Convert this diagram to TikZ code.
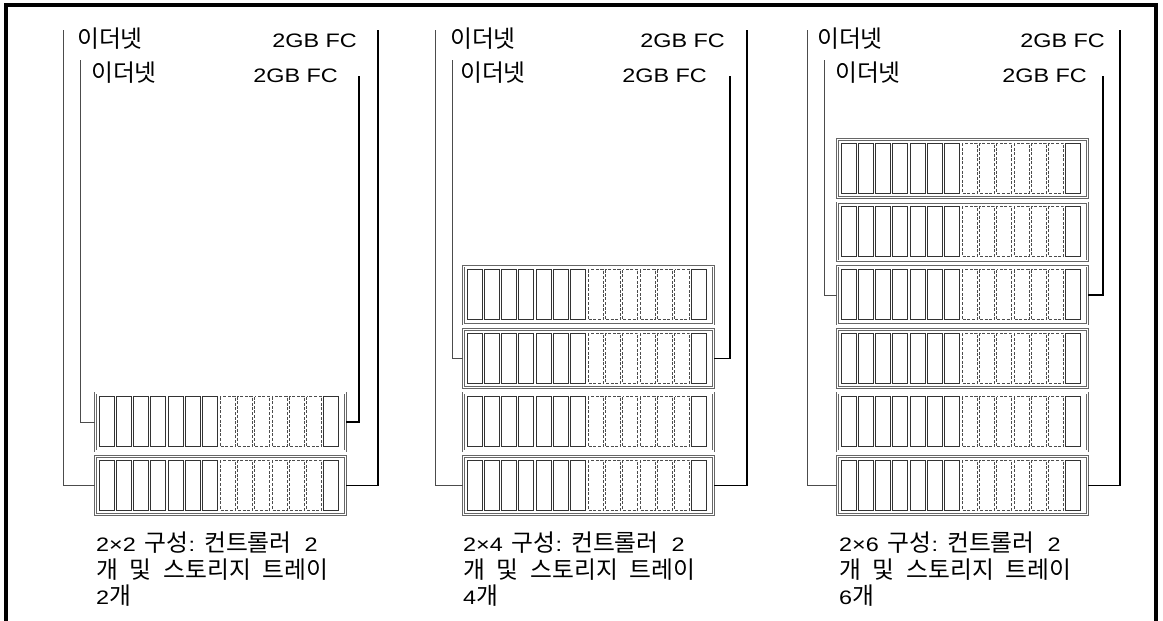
\documentclass[tikz,border=0pt]{standalone}
\usepackage{fontspec}
\setmainfont[FakeStretch=1.2]{Liberation Sans}
\newfontfamily\kr[Scale=1.22, WordSpace=2.2]{Noto Sans CJK KR}
\newcommand\gapa{\hspace*{9pt}}
\newcommand\gapb{\hspace*{13pt}}
\tikzset{
  frameline/.style={line width=3.5pt, line join=miter, line cap=rect},
  traybox/.style={draw=black!60, double=white, double distance=1.1pt, line width=0.7pt,
    minimum width=250pt, minimum height=58pt, anchor=north west, inner sep=0pt},
  slotsolid/.style={draw=black!80, line width=0.9pt},
  slotdash/.style={draw=black!70, line width=0.7pt, dash pattern=on 3pt off 1.6pt},
  eth/.style={draw=black!70, line width=0.8pt},
  fcline/.style={draw=black, line width=1.5pt},
  lbl/.style={inner sep=0pt, font=\fontsize{19.5}{27}\selectfont},
  captext/.style={inner sep=0pt, anchor=north west, align=left, font=\fontsize{19.5}{26.5}\selectfont}
}
\newcommand\traydraw[3]{%
  \node[traybox] (#1) at (#2,#3) {};
  \foreach \s in {0,...,13}{%
    \pgfmathsetmacro\xa{#2+4+\s*17.3}%
    \pgfmathsetmacro\xb{\xa+15}%
    \pgfmathsetmacro\ya{#3+4}%
    \pgfmathsetmacro\yb{#3+54}%
    \ifnum\s<7
      \draw[slotsolid] (\xa,\ya) rectangle (\xb,\yb);
    \else\ifnum\s=13
      \draw[slotsolid] (\xa,\ya) rectangle (\xb,\yb);
    \else
      \draw[slotdash] (\xa,\ya) rectangle (\xb,\yb);
    \fi\fi
  }%
}
\begin{document}
\begin{tikzpicture}[x=1pt,y=-1pt]
\useasboundingbox (0,0) rectangle (1163,621);
\draw[frameline] (6,630) -- (6,5) -- (1156,5) -- (1156,630);

% ---------- Panel 1 (2x2)
\traydraw{p1t0}{95}{456}
\traydraw{p1t1}{95}{392.6}
\coordinate (p1eo) at (63,30);
\coordinate (p1ei) at (80,60);
\coordinate (p1fi) at (359,76);
\coordinate (p1fo) at (378,30);
\draw[eth] (p1eo) |- (p1t0.west);
\draw[eth] (p1ei) |- (p1t1.west);
\draw[fcline] (p1fi) |- (p1t1.east);
\draw[fcline] (p1fo) |- (p1t0.east);
\node[lbl, anchor=base west] (p1l1) at (77,47) {\kr 이더넷};
\node[lbl, anchor=base east] (p1l2) at (357,47) {2GB FC};
\node[lbl, anchor=base west] (p1l3) at (91,81) {\kr 이더넷};
\node[lbl, anchor=base east] (p1l4) at (338,82) {2GB FC};
\node[captext] (p1c) at (96,532) {2×2\gapa{\kr 구성}:\gapa{\kr 컨트롤러}\gapb2\\{\kr 개 및 스토리지 트레이}\\2{\kr 개}};

% ---------- Panel 2 (2x4)
\traydraw{p2t0}{463}{456}
\traydraw{p2t1}{463}{392.6}
\traydraw{p2t2}{463}{329.2}
\traydraw{p2t3}{463}{265.8}
\coordinate (p2eo) at (435,30);
\coordinate (p2ei) at (452,60);
\coordinate (p2fi) at (730,76);
\coordinate (p2fo) at (747,30);
\draw[eth] (p2eo) |- (p2t0.west);
\draw[eth] (p2ei) |- (p2t2.west);
\draw[fcline] (p2fi) |- (p2t2.east);
\draw[fcline] (p2fo) |- (p2t0.east);
\node[lbl, anchor=base west] (p2l1) at (450,47) {\kr 이더넷};
\node[lbl, anchor=base east] (p2l2) at (725,47) {2GB FC};
\node[lbl, anchor=base west] (p2l3) at (460,81) {\kr 이더넷};
\node[lbl, anchor=base east] (p2l4) at (707,82) {2GB FC};
\node[captext] (p2c) at (463,532) {2×4\gapa{\kr 구성}:\gapa{\kr 컨트롤러}\gapb2\\{\kr 개 및 스토리지 트레이}\\4{\kr 개}};

% ---------- Panel 3 (2x6)
\traydraw{p3t0}{837}{456}
\traydraw{p3t1}{837}{392.6}
\traydraw{p3t2}{837}{329.2}
\traydraw{p3t3}{837}{265.8}
\traydraw{p3t4}{837}{202.4}
\traydraw{p3t5}{837}{139}
\coordinate (p3eo) at (807,30);
\coordinate (p3ei) at (824,60);
\coordinate (p3fi) at (1103,76);
\coordinate (p3fo) at (1120,30);
\draw[eth] (p3eo) |- (p3t0.west);
\draw[eth] (p3ei) |- (p3t3.west);
\draw[fcline] (p3fi) |- (p3t3.east);
\draw[fcline] (p3fo) |- (p3t0.east);
\node[lbl, anchor=base west] (p3l1) at (817,47) {\kr 이더넷};
\node[lbl, anchor=base east] (p3l2) at (1105,47) {2GB FC};
\node[lbl, anchor=base west] (p3l3) at (835,81) {\kr 이더넷};
\node[lbl, anchor=base east] (p3l4) at (1087,82) {2GB FC};
\node[captext] (p3c) at (839,532) {2×6\gapa{\kr 구성}:\gapa{\kr 컨트롤러}\gapb2\\{\kr 개 및 스토리지 트레이}\\6{\kr 개}};
\end{tikzpicture}
\end{document}
